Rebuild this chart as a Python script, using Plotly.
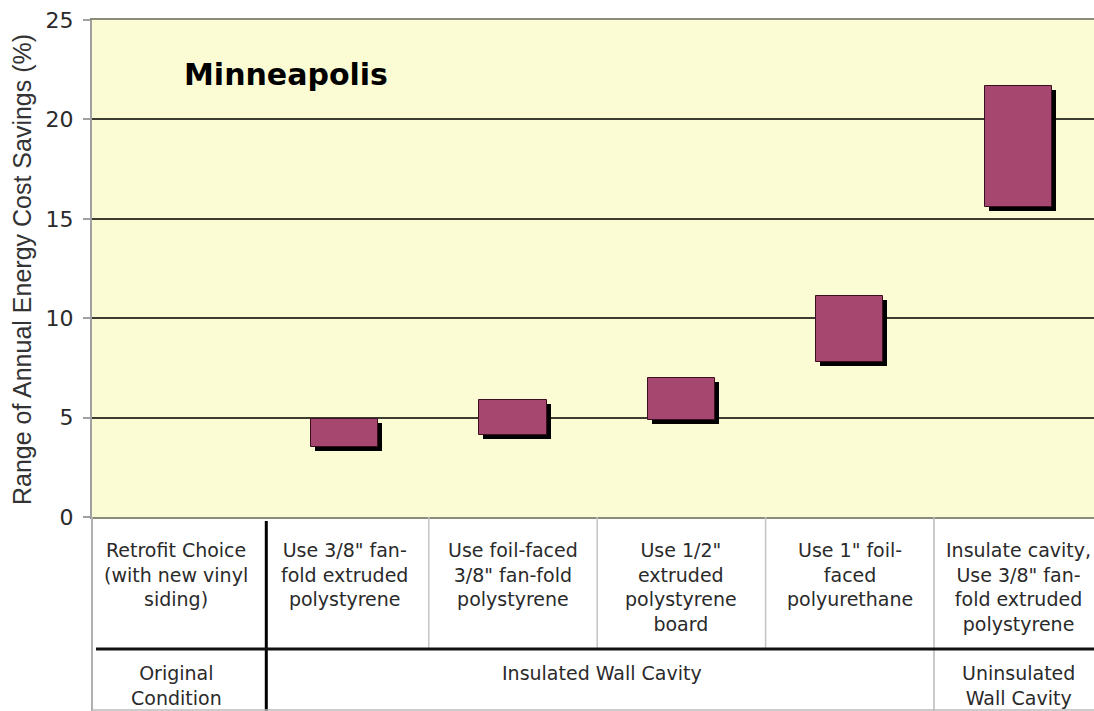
import plotly.graph_objects as go

# ---- data ----
categories = [
    "Retrofit Choice<br>(with new vinyl<br>siding)",
    "Use 3/8\" fan-<br>fold extruded<br>polystyrene",
    "Use foil-faced<br>3/8\" fan-fold<br>polystyrene",
    "Use 1/2\"<br>extruded<br>polystyrene<br>board",
    "Use 1\" foil-<br>faced<br>polyurethane",
    "Insulate cavity,<br>Use 3/8\" fan-<br>fold extruded<br>polystyrene",
]
bar_positions = [1, 2, 3, 4, 5]
savings_low = [3.5, 4.15, 4.9, 7.8, 15.6]
savings_high = [4.95, 5.9, 7.0, 11.1, 21.7]
group_labels = ["Original<br>Condition", "Insulated Wall Cavity", "Uninsulated<br>Wall Cavity"]
group_centers = [0, 2.53, 5]
y_ticks = [0, 5, 10, 15, 20, 25]

# ---- styling ----
FONT = "DejaVu Sans"
BAR_COLOR = "#A6476F"
BG = "#FCFCD4"
BAR_W = 0.4
PX_X = 168.4   # px per category (for shadow offset)
PX_Y = 19.88   # px per % (for shadow offset)
SH_X = 4 / PX_X
SH_Y = 4 / PX_Y

heights = [h - l for l, h in zip(savings_low, savings_high)]

fig = go.Figure()
# shadow
fig.add_trace(go.Bar(
    x=bar_positions, y=heights, base=[l - SH_Y for l in savings_low],
    width=BAR_W, offset=-BAR_W / 2 + SH_X,
    marker=dict(color="#000000", line=dict(width=0)),
    hoverinfo="skip", showlegend=False,
))
# bars
fig.add_trace(go.Bar(
    x=bar_positions, y=heights, base=savings_low,
    width=BAR_W, offset=-BAR_W / 2,
    marker=dict(color=BAR_COLOR, line=dict(color="#3a1020", width=1)),
    showlegend=False,
    customdata=[[l, h] for l, h in zip(savings_low, savings_high)],
    hovertemplate="%{customdata[0]}–%{customdata[1]}%<extra></extra>",
))

H_PLOT = 497.0
def py(Y):
    return (517.0 - Y) / H_PLOT

shapes = []
# thin grey column separators in upper table row
for xv in [1.5, 2.5, 3.5]:
    shapes.append(dict(type="line", xref="x", yref="paper", x0=xv, x1=xv,
                       y0=py(517), y1=py(648), line=dict(color="#c4c4c4", width=1.5)))
shapes.append(dict(type="line", xref="x", yref="paper", x0=4.5, x1=4.5,
                   y0=py(517), y1=py(711), line=dict(color="#b8b8b8", width=1.5)))
# thick black separator
shapes.append(dict(type="line", xref="x", yref="paper", x0=0.535, x1=0.535,
                   y0=py(521), y1=py(711), line=dict(color="#000000", width=3)))
# thick horizontal separator
shapes.append(dict(type="line", xref="paper", yref="paper", x0=0.004, x1=1,
                   y0=py(649), y1=py(649), line=dict(color="#111111", width=3)))
# left border of table
shapes.append(dict(type="line", xref="paper", yref="paper", x0=0, x1=0,
                   y0=py(517), y1=py(711), line=dict(color="#b0b0b0", width=2)))
# bottom line
shapes.append(dict(type="line", xref="paper", yref="paper", x0=0, x1=1,
                   y0=py(710), y1=py(710), line=dict(color="#bbbbbb", width=1.5)))

annotations = []
for i, lab in enumerate(categories):
    annotations.append(dict(
        x=i, xref="x", y=py(537), yref="paper", text=lab, showarrow=False,
        xanchor="center", yanchor="top", align="center",
        font=dict(family=FONT, size=19, color="#2a2a2a")))
for c, lab in zip(group_centers, group_labels):
    annotations.append(dict(
        x=c, xref="x", y=py(660), yref="paper", text=lab, showarrow=False,
        xanchor="center", yanchor="top", align="center",
        font=dict(family=FONT, size=19, color="#2a2a2a")))
annotations.append(dict(
    x=(182 - 92) / 1002, xref="paper", y=py(75), yref="paper", text="<b>Minneapolis</b>",
    showarrow=False, xanchor="left", yanchor="middle",
    font=dict(family=FONT, size=30, color="#000000")))
annotations.append(dict(
    x=-(92 - 22) / 1002, xref="paper", y=py(270), yref="paper",
    text="Range of Annual Energy Cost Savings (%)", textangle=-90, showarrow=False,
    xanchor="center", yanchor="middle",
    font=dict(family="Liberation Sans", size=25, color="#333333")))

fig.update_layout(
    width=1094, height=711,
    margin=dict(l=92, r=0, t=20, b=194),
    paper_bgcolor="#ffffff",
    plot_bgcolor=BG,
    barmode="overlay",
    bargap=0,
    shapes=shapes,
    annotations=annotations,
    xaxis=dict(range=[-0.5, -0.5 + 1002 / PX_X], showticklabels=False, showgrid=False,
               zeroline=False, showline=True, mirror=True, linecolor="#8c8c7a", linewidth=2,
               ticks="", fixedrange=True),
    yaxis=dict(range=[0, 25], tickvals=y_ticks, showgrid=True, gridcolor="#3c3c30",
               gridwidth=1.5, zeroline=False, showline=True, linecolor="#a0a0a0",
               linewidth=2, ticks="outside", ticklen=7, tickcolor="#a0a0a0", tickwidth=1.5,
               ticklabelstandoff=5,
               tickfont=dict(family=FONT, size=22, color="#2a2a2a"), fixedrange=True),
    font=dict(family=FONT),
)

fig.write_html("out.html", config={"displayModeBar": False},
               post_script="document.body.style.margin='0';document.body.style.overflow='hidden';")
